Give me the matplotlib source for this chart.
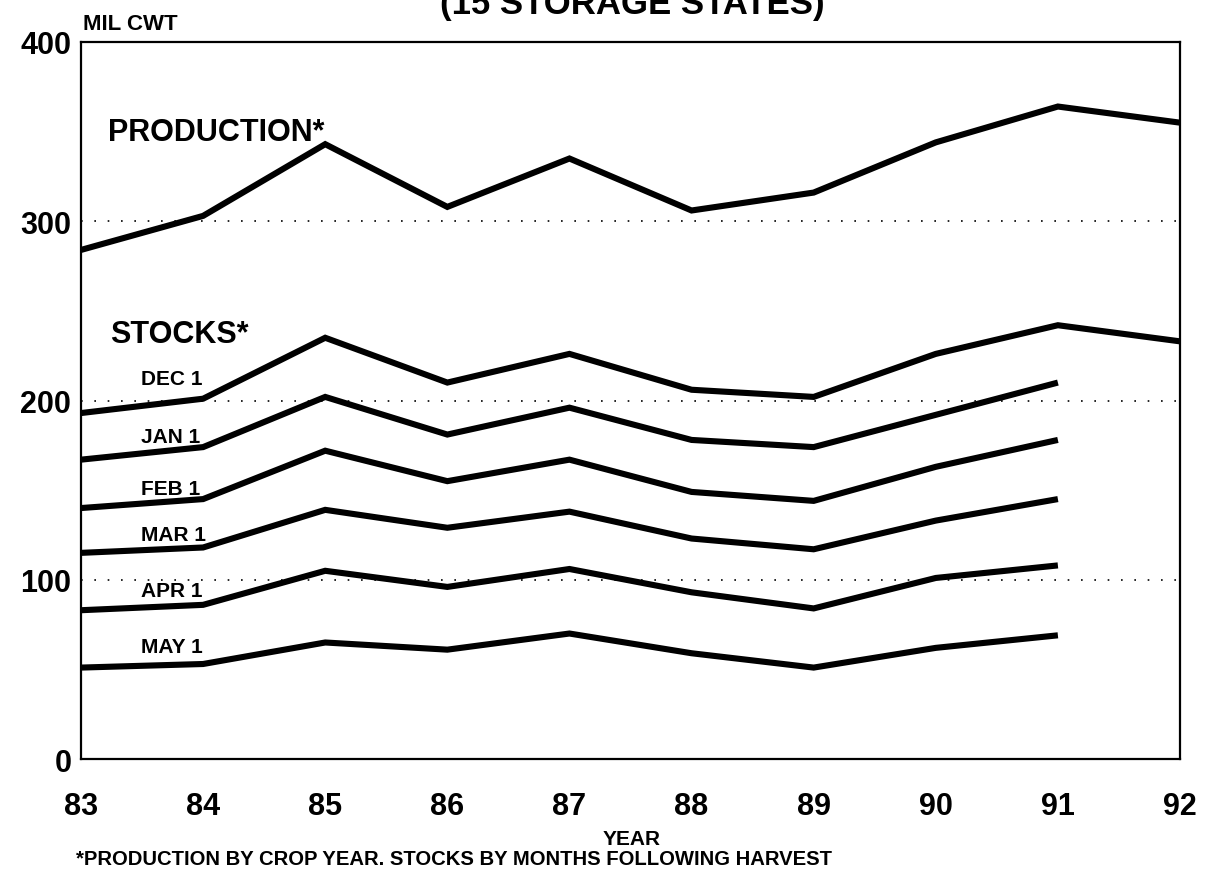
import matplotlib
matplotlib.use("Agg")
import matplotlib.pyplot as plt

plt.rcParams['font.family'] = ['Liberation Sans', 'DejaVu Sans']
plt.rcParams['font.weight'] = 'bold'

# crop years (last two digits)
years = [83, 84, 85, 86, 87, 88, 89, 90, 91, 92]
year_labels = ['83', '84', '85', '86', '87', '88', '89', '90', '91', '92']

# million cwt, 15 storage states
production = [284, 303, 343, 308, 335, 306, 316, 344, 364, 355]
stocks_dec1 = [193, 201, 235, 210, 226, 206, 202, 226, 242, 233]
stocks_jan1 = [167, 174, 202, 181, 196, 178, 174, 192, 210]
stocks_feb1 = [140, 145, 172, 155, 167, 149, 144, 163, 178]
stocks_mar1 = [115, 118, 139, 129, 138, 123, 117, 133, 145]
stocks_apr1 = [83, 86, 105, 96, 106, 93, 84, 101, 108]
stocks_may1 = [51, 53, 65, 61, 70, 59, 51, 62, 69]

series = [production, stocks_dec1, stocks_jan1, stocks_feb1,
          stocks_mar1, stocks_apr1, stocks_may1]

fig = plt.figure(figsize=(12.06, 8.70), dpi=100)
ax = fig.add_axes([81 / 1206, 1 - 760 / 870, (1180 - 81) / 1206, (760 - 43) / 870])

# dotted reference lines
for yv in [100, 200, 300]:
    ax.axhline(yv, color='black', lw=1.2, ls=(0, (1, 7)), zorder=1)

for vals in series:
    ax.plot(years[:len(vals)], vals, color='black', lw=4.4,
            solid_joinstyle='miter', solid_capstyle='butt', zorder=3)

ax.set_xlim(83, 92)
ax.set_ylim(0, 400)
ax.set_xticks(years)
ax.set_xticklabels(year_labels)
ax.set_yticks([0, 100, 200, 300, 400])
ax.tick_params(axis='both', length=0, labelsize=22)
ax.tick_params(axis='x', pad=23)
ax.tick_params(axis='y', pad=7)
for lab in ax.get_xticklabels() + ax.get_yticklabels():
    lab.set_fontweight('bold')
for sp in ax.spines.values():
    sp.set_linewidth(1.6)

# series labels
ax.text(83.22, 350, 'PRODUCTION*', fontsize=22, fontweight='bold', va='center', ha='left')
ax.text(83.24, 237, 'STOCKS*', fontsize=22, fontweight='bold', va='center', ha='left')
month_labels = ['DEC 1', 'JAN 1', 'FEB 1', 'MAR 1', 'APR 1', 'MAY 1']
month_label_y = [212, 180, 151, 125.5, 94, 63]
for txt, yv in zip(month_labels, month_label_y):
    ax.text(83.49, yv, txt, fontsize=15, fontweight='bold', va='center', ha='left')

fig.text(83 / 1206, 1 - 25 / 870, 'MIL CWT', fontsize=16, fontweight='bold', va='center', ha='left')
# title line is cut off by the top edge in the source scan
fig.text(632 / 1206, 1 - 14 / 870, '(15 STORAGE STATES)', fontsize=25, fontweight='bold',
         va='baseline', ha='center')
fig.text(632 / 1206, 1 - 840 / 870, 'YEAR', fontsize=15, fontweight='bold', va='center', ha='center')
fig.text(76 / 1206, 1 - 860 / 870,
         '*PRODUCTION BY CROP YEAR. STOCKS BY MONTHS FOLLOWING HARVEST',
         fontsize=14.6, fontweight='bold', va='center', ha='left')

fig.savefig('out.png', dpi=100)
